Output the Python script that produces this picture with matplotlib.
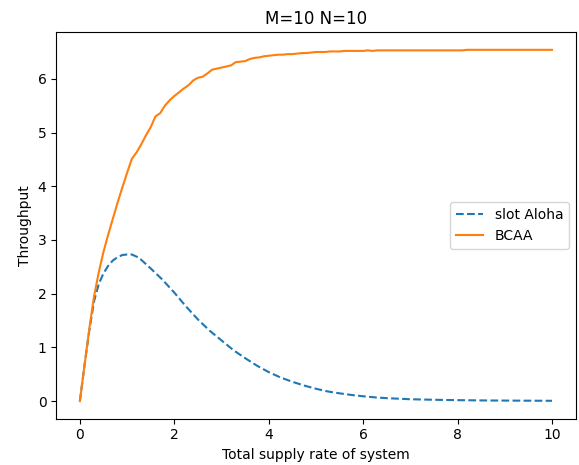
import numpy as np
import matplotlib.pyplot as plt

# offered load grid for the BCAA simulation
rate_bcaa = np.linspace(0, 10, 101)
bcaa = [0.00, 0.68, 1.35, 1.95, 2.40, 2.78, 3.10, 3.40, 3.70, 3.98,
        4.25, 4.51, 4.63, 4.78, 4.95, 5.10, 5.30, 5.36, 5.50, 5.60,
        5.68, 5.75, 5.82, 5.88, 5.97, 6.02, 6.04, 6.10, 6.17, 6.19,
        6.21, 6.23, 6.25, 6.31, 6.32, 6.33, 6.37, 6.39, 6.40, 6.42,
        6.43, 6.44, 6.45, 6.45, 6.46, 6.46, 6.47, 6.48, 6.48, 6.49,
        6.50, 6.50, 6.50, 6.51, 6.51, 6.51, 6.52, 6.52, 6.52, 6.52,
        6.52, 6.53, 6.52, 6.53, 6.53, 6.53, 6.53, 6.53, 6.53, 6.53,
        6.53, 6.53, 6.53, 6.53, 6.53, 6.53, 6.53, 6.53, 6.53, 6.53,
        6.53, 6.53, 6.54, 6.54, 6.54, 6.54, 6.54, 6.54, 6.54, 6.54,
        6.54, 6.54, 6.54, 6.54, 6.54, 6.54, 6.54, 6.54, 6.54, 6.54,
        6.54]

rate_aloha = [0, 0.1, 0.2, 0.3, 0.4, 0.5, 0.6, 0.7, 0.8, 0.9, 1.0, 1.1,
              1.25, 1.5, 1.75, 2.0, 2.25, 2.5, 2.75, 3.0, 3.25, 3.5,
              3.75, 4.0, 4.25, 4.5, 4.75, 5.0, 5.25, 5.5, 5.75, 6.0,
              6.25, 6.5, 6.75, 7.0, 7.5, 8.0, 8.5, 9.0, 9.5, 10.0]
aloha = [0.00, 0.68, 1.32, 1.86, 2.18, 2.38, 2.52, 2.62, 2.68, 2.72, 2.73, 2.73,
         2.67, 2.47, 2.26, 2.02, 1.76, 1.52, 1.31, 1.13, 0.95, 0.80,
         0.66, 0.54, 0.44, 0.36, 0.29, 0.23, 0.18, 0.145, 0.115, 0.09,
         0.07, 0.055, 0.045, 0.035, 0.025, 0.018, 0.013, 0.010, 0.008, 0.006]

fig = plt.figure(figsize=(5.79, 4.65), dpi=100)
ax = fig.add_axes([0.0972, 0.0996, 0.897, 0.831])
ax.plot(rate_aloha, aloha, '--', label='slot Aloha')
ax.plot(rate_bcaa, bcaa, label='BCAA')
ax.set_title('M=10 N=10')
ax.set_xlabel('Total supply rate of system')
ax.set_ylabel('Throughput')
ax.legend(loc='center right')
fig.savefig('out.png')
